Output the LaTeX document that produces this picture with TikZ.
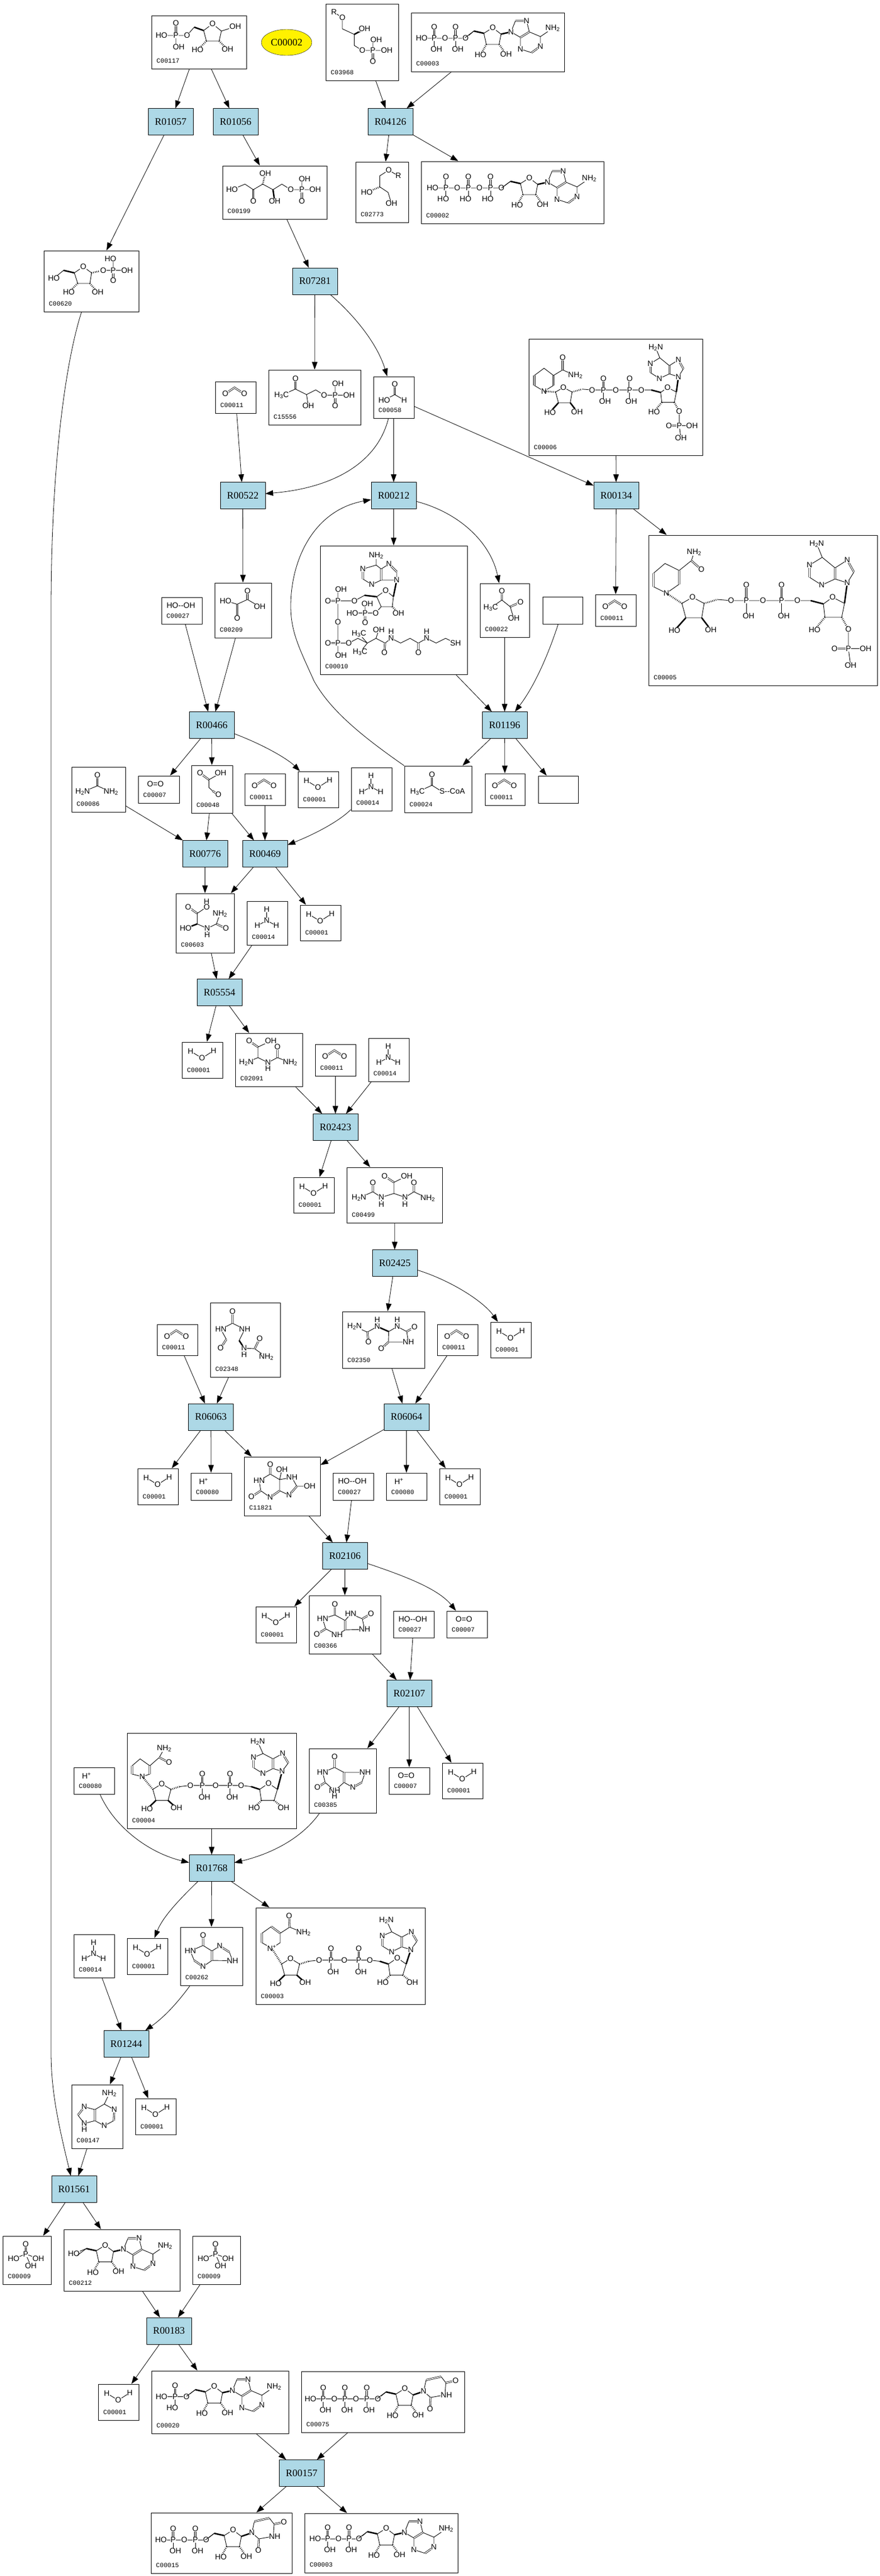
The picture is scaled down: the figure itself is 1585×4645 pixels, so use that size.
\documentclass[tikz,border=0pt]{standalone}
\usepackage{fontspec}
\setmainfont{Liberation Serif}
\newfontfamily\atomfont{Liberation Sans}
\newfontfamily\codefont{Liberation Mono}
\usetikzlibrary{shapes.geometric,arrows.meta}

\tikzset{
reaction/.style={draw,fill=lightblue,minimum width=81,minimum height=48,inner sep=0,font=\fontsize{18}{18}\selectfont},
compound/.style={draw,fill=white,inner sep=0,line width=1pt},
metabolite/.style={draw,ellipse,fill=yellow,minimum width=91,minimum height=47,inner sep=0,font=\fontsize{18}{18}\selectfont},
rxnedge/.style={-{Triangle[length=14pt,width=10pt]},line width=.8pt},
bond/.style={line width=.9pt},
dbl/.style={line width=.8pt,double,double distance=1.6pt},
wedgeb/.style={line width=2.6pt},
hashb/.style={line width=3pt,dash pattern=on .9pt off 2.2pt},
atom/.style={fill=white,inner sep=.3pt,font=\fontsize{14}{14}\atomfont},
codelabel/.style={anchor=west,inner sep=0,font=\fontsize{11.5}{12}\codefont}
}
\definecolor{lightblue}{HTML}{ADD8E6}

\newcommand{\atoms}[1]{\foreach \ax/\ay/\alab in {#1} {\node[atom] at (\ax,\ay) {\alab};}}
\newcommand{\Nt}{NH\textsubscript{2}}
\newcommand{\Nh}{H\textsubscript{2}N}
\newcommand{\Mt}{H\textsubscript{3}C}

\newcommand{\cpd}[7]{
\node[compound,minimum width={(#4-#2)*1pt},minimum height={(#5-#3)*1pt}] (#1) at ({(#2+#4)/2},{(#3+#5)/2}) {};
\begin{scope}[shift={(#2,#3)}]
#7
\node[codelabel] at (9,{#5-#3-14.5}) {#6};
\end{scope}
}

\newcommand{\mWater}{\draw[bond] (15.5,16.5)--(36,29)--(57,15.5); \atoms{15.5/16.5/H,36/29/O,57/15.5/H}}
\newcommand{\mCO}{\draw[dbl] (18,22)--(34.5,11)--(52,22); \atoms{18/22/O,52/22/O}}
\newcommand{\mOO}{\atoms{31/15/O=O}}
\newcommand{\mHOOH}{\atoms{35/15/HO--OH}}
\newcommand{\mHp}{\atoms{23/15/H\textsuperscript{+}}}
\newcommand{\mNH}{\draw[bond] (35.6,15)--(35.6,35)--(19,44) (35.6,35)--(53,44); \atoms{35.6/15/H,35.6/35/N,19/44/H,53/44/H}}
\newcommand{\mPi}{\draw[dbl] (41.3,14.5)--(41.3,32.5); \draw[bond] (19.5,41)--(41.3,32.5)--(64,40.5) (41.3,32.5)--(50.5,53.5); \atoms{41.3/14.5/O,41.3/32.5/P,19.5/41/HO,64/40.5/OH,50.5/53.5/OH}}
\newcommand{\mUrea}{\draw[dbl] (46.5,15)--(46.5,34); \draw[bond] (20,45)--(46.5,34)--(71,45); \atoms{46.5/15/O,20/45/\Nh,71/45/\Nt}}
\newcommand{\mGlyox}{\draw[dbl] (15.5,14)--(31.5,26); \draw[bond] (52.5,14)--(31.5,26)--(31.5,40)--(38,46); \draw[dbl] (38,46)--(48.5,53); \atoms{15.5/14/O,52.5/14/OH,48.5/53/O}}
\newcommand{\mOxal}{\draw[dbl] (59,15)--(59,30) (40.5,38.5)--(40.5,64); \draw[bond] (19.5,32.5)--(40.5,38.5)--(59,30)--(81,43); \atoms{59/15/O,81/43/OH,19.5/32.5/HO,40.5/64/O}}
\newcommand{\mPyr}{\draw[dbl] (39.5,14)--(39.5,30) (54.5,42)--(73,34); \draw[bond] (19.5,44)--(39.5,30)--(54.5,42)--(61,63); \atoms{39.5/14/O,19.5/44/\Mt,73/34/O,61/63/OH}}
\newcommand{\mAcCoA}{\draw[dbl] (49.5,16)--(49.5,35); \draw[bond] (23.5,47)--(49.5,35)--(67,46); \atoms{49.5/16/O,23.5/47/\Mt,86/46/S--CoA}}
\newcommand{\mFormate}{\draw[dbl] (38.5,13.5)--(38.5,32.5); \draw[bond] (19.5,42.5)--(38.5,32.5)--(55.5,42.5); \atoms{38.5/13.5/O,19.5/42.5/HO,55.5/42.5/H}}
\newcommand{\mPgp}{\draw[dbl] (48.5,15.5)--(48.5,34.5) (120,45.5)--(120,65); \draw[bond] (23.5,45.5)--(48.5,34.5)--(68.5,44.5)--(85,36)--(100,45.5)--(145,45.5) (68.5,44.5)--(71.5,65) (120,45.5)--(120,25); \atoms{48.5/15.5/O,23.5/45.5/\Mt,71.5/65/OH,100/45.5/O,120/45.5/P,125/25/OH,145/45.5/OH,120/65/O}}
\newcommand{\mRuP}{\draw[dbl] (55.5,43)--(55.5,64) (143,43)--(143,64); \draw[bond] (17,43)--(40.5,33)--(55.5,43)--(72.5,33)--(91,43)--(107,33)--(123,43)--(167,43) (143,43)--(143,24); \draw[hashb] (72.5,33)--(77,14); \draw[wedgeb] (91,43)--(94,64); \atoms{17/43/HO,55.5/64/O,77/14/OH,94/64/OH,123/43/O,143/43/P,148/24/OH,167/43/OH,143/64/O}}
\newcommand{\mRGP}{\draw[dbl] (85,84)--(85,104); \draw[bond] (30,25)--(30,45)--(51.5,55)--(51.5,75)--(66,84)--(110,84) (85,84)--(85,65); \draw[wedgeb] (51.5,55)--(70,45); \draw[bond] (15,15)--(30,25); \atoms{15/15/R,30/25/O,70/45/OH,66/84/O,85/84/P,91/65/OH,110/84/OH,85/104/O}}
\newcommand{\mRG}{\draw[bond] (77,25)--(59.5,15)--(43.5,25)--(43.5,45)--(58.5,55)--(64.5,75); \draw[hashb] (43.5,45)--(20,55); \atoms{59.5/15/O,77/25/R,20/55/HO,64.5/75/OH}}
\newcommand{\mRfP}{\draw[dbl] (44,36)--(44,14); \draw[bond] (18,36)--(64,36)--(77,21) (44,36)--(44,57) (94,27)--(110,15)--(126,28)--(122,46)--(99,46)--cycle (126,28)--(151,20); \draw[wedgeb] (77,21)--(94,27); \draw[hashb] (99,46)--(83,62) (122,46)--(137,61); \atoms{18/36/HO,44/36/P,44/14/O,49/57/OH,64/36/O,110/15/O,151/20/OH,83/62/HO,137/61/OH}}
\newcommand{\mRiP}{\draw[dbl] (125,35.5)--(125,54); \draw[bond] (18,50)--(35.5,35.5) (55,40)--(71,29)--(86,40)--(83,59)--(61,59)--cycle (107,35.5)--(150,35.5) (125,35.5)--(125,15); \draw[wedgeb] (35.5,35.5)--(55,40); \draw[hashb] (86,40)--(107,35.5) (61,59)--(45,75) (83,59)--(97,75); \atoms{18/50/HO,71/29/O,107/35.5/O,125/35.5/P,120/15/HO,150/35.5/OH,125/54/O,45/75/HO,97/75/OH}}

\newcommand{\mPO}[3][20]{\draw[dbl] (#2,#3)--(#2,#3-#1); \draw[bond] (#2,#3)--(#2,#3+#1); \atoms{#2/#3/P,#2/#3-#1/O,#2+4/#3+#1/OH}}
\newcommand{\mPOh}[2]{\draw[dbl] (#1,#2)--(#1,#2-20); \draw[bond] (#1,#2)--(#1,#2+20); \atoms{#1/#2/P,#1/#2-20/O,#1-5/#2+20/HO}}
\newcommand{\mRibose}{\draw[bond] (-16,10)--(0,0)--(15,11.5)--(11.5,30)--(-11.5,30)--cycle (-34,6)--(-50,18); \draw[wedgeb] (-16,10)--(-34,6); \draw[hashb] (-11.5,30)--(-22,49) (11.5,30)--(24,47.5); \atoms{0/0/O,-22/49/HO,24/47.5/OH}}
\newcommand{\mAdenine}{\draw[wedgeb] (15,11.5)--(33,7.5); \draw[bond] (33,7.5)--(41,-12.5) (61,-12.5)--(66,7.5)--(86,16)--(86,33.5) (70,45)--(50,38.5)--(50,17.5)--(33,7.5) (86,16)--(108,1); \draw[dbl] (41,-12.5)--(61,-12.5) (50,17.5)--(66,7.5) (86,33.5)--(70,45); \atoms{33/7.5/N,61/-12.5/N,86/33.5/N,50/38.5/N,108/1/\Nt}}
\newcommand{\mUracil}{\draw[wedgeb] (15,11.5)--(34,5); \draw[bond] (34,5)--(38.5,-15.5) (65.5,-21.5)--(74,-10.5)--(72.5,11.5)--(46.5,16)--(34,5); \draw[dbl] (38.5,-15.5)--(65.5,-21.5) (74,-10.5)--(91.5,-14) (46.5,16)--(45.5,37); \atoms{34/5/N,91.5/-14/O,75/11.5/NH,45.5/37/O}}

\newcommand{\mAdp}{\draw[bond] (19,46)--(98,46)--(113,33); \atoms{19/46/HO,61/46/O,98/46/O} \mPO{41.5}{46} \mPO{80}{46} \begin{scope}[shift={(147,27)}] \mRibose \mAdenine \end{scope}}
\newcommand{\mAtp}{\draw[bond] (20.5,48)--(144.5,48)--(161,36); \atoms{20.5/48/HO,65/48/O,105/48/O,144.5/48/O} \mPOh{44.7}{48} \mPOh{85}{48} \mPOh{125}{48} \begin{scope}[shift={(195,30)}] \mRibose \mAdenine \end{scope}}
\newcommand{\mAmp}{\draw[bond] (18,46.5)--(63,46.5)--(79,34); \atoms{18/46.5/HO,63/46.5/O} \mPOh{42.5}{46.5} \begin{scope}[shift={(113,28)}] \mRibose \mAdenine \end{scope}}
\newcommand{\mAdo}{\draw[bond] (18,44)--(40.6,34.5); \atoms{18/44/HO} \begin{scope}[shift={(74.6,28.5)}] \mRibose \mAdenine \end{scope}}
\newcommand{\mUtp}{\draw[bond] (16.5,49.5)--(138,49.5)--(153,37); \atoms{16.5/49.5/HO,59.5/49.5/O,98.5/49.5/O,138/49.5/O} \mPO{39.5}{49.5} \mPO{78.5}{49.5} \mPO{118}{49.5} \begin{scope}[shift={(186.5,31)}] \mRibose \mUracil \end{scope}}
\newcommand{\mUdp}{\draw[bond] (18,49)--(99.5,49)--(114,37); \atoms{18/49/HO,60/49/O,99.5/49/O} \mPO{40}{49} \mPO{80}{49} \begin{scope}[shift={(148,31)}] \mRibose \mUracil \end{scope}}
\newcommand{\mAdeFree}{\draw[bond] (68,16)--(59,35)--(77,45) (76,65)--(59,74)--(42,65) (42,45)--(59,35) (42,45)--(23,40) (11.5,55)--(23,70)--(42,65) (23,70)--(23,81); \draw[dbl] (77,45)--(76,65) (42,65)--(42,45) (23,40)--(11.5,55); \atoms{68/16/\Nt,77/45/N,59/74/N,23/40/N,23/70/N,23/81/H}}

\newcommand{\mNadCore}[3]{\draw[bond] (46.5,101.5)--(62.5,91.5)--(79,101.5)--(74,121.5)--(52,121.5)--cycle (95,96.5)--(114,94.5)--(205.5,94.5)--(223.5,96.5) (239,101.5)--(255,90.5)--(271,101.5)--(265,121.5)--(242,121.5)--cycle;
\draw[hashb] (46.5,101.5)--(#1,#2) (79,101.5)--(95,96.5) (242,121.5)--(229,135) (265,121.5)--(282,135);
\draw[wedgeb] (52,121.5)--(36,137) (74,121.5)--(89,135) (223.5,96.5)--(239,101.5) (271,101.5)--(279.5,69+#3);
\atoms{62.5/91.5/O,36/137/HO,89/135/OH,114/94.5/O,159.5/94.5/O,205.5/94.5/O,255/90.5/O,229/135/HO,282/135/OH}
\mPO[21]{135.5}{94.5} \mPO[21]{185.5}{94.5}
\begin{scope}[shift={(0,#3)}]
\draw[bond] (279.5,69)--(290.5,54) (280.5,37)--(263,46.5)--(245,37)--(228,44) (228,62.5)--(245,73)--(263,64)--(279.5,69) (245,37)--(235.5,16);
\draw[dbl] (290.5,54)--(280.5,37) (263,46.5)--(263,64) (228,44)--(228,62.5);
\atoms{279.5/69/N,280.5/37/N,228/44/N,245/73/N,235.5/16/\Nh}
\end{scope}}
\newcommand{\mNadh}{\draw[bond] (9,74)--(9,59)--(23.5,46.5)--(41,59) (41,74)--(27.5,78.5)--(9,74) (41,59)--(58,44)--(67,28); \draw[dbl] (9,74)--(9,59) (41,59)--(41,74) (58,44)--(75.5,53); \atoms{27.5/78.5/N,67/28/\Nt,75.5/53/O} \mNadCore{27.5}{78.5}{0}}
\newcommand{\mNad}{\draw[bond] (28.7,73)--(11,63)--(11,46)--(28,34)--(44,46)--(44,63)--cycle (44,46)--(61,35)--(86,45); \draw[dbl] (11,63)--(11,46) (28,34)--(44,46) (61,35)--(60,15); \atoms{28.7/73/N\textsuperscript{+},60/15/O,86/45/\Nt} \mNadCore{28.7}{73}{6.5}}

\newcommand{\mNadpCore}[2]{\draw[bond] (60,123)--(79,112)--(100,123)--(95.6,149)--(67,149)--cycle (124,116)--(148.6,118)--(292,118) (315,124)--(331.6,112)--(353,123)--(348,148)--(317.6,148)--cycle (360,170)--(360,204.5)--(391,204.5) (360,204.5)--(364,235) (358,86)--(370,66.6) (358,45)--(336,59)--(312.8,40)--(290,54) (290,76)--(312,90)--(336,79)--(358,86) (312.8,40)--(303,15.5);
\draw[hashb] (60,123)--(#1,#2) (100,123)--(124,116) (317.6,148)--(299,171) (348,148)--(360,170);
\draw[wedgeb] (67,149)--(46.5,172) (95.6,149)--(112,170.5) (292,118)--(315,124) (353,123)--(358,86);
\draw[dbl] (360,204.5)--(335,204.5) (370,66.6)--(358,45) (336,59)--(336,79) (290,54)--(290,76);
\atoms{79/112/O,46.5/172/HO,112/170.5/OH,148.6/118/O,206/118/O,268/118/O,331.6/112/O,299/171/HO,360/170/O,360/204.5/P,335/204.5/O,391/204.5/OH,364/235/OH,358/86/N,358/45/N,290/54/N,312/90/N,303/15.5/\Nh}
\mPO[28]{176}{118} \mPO[28]{239.6}{118}}
\newcommand{\mNadph}{\draw[bond] (32,104.5)--(9,93) (9,68.5)--(29.5,51)--(55,63.7) (55,88.5)--(32,104.5) (55,63.7)--(77,46)--(82,31); \draw[dbl] (9,93)--(9,68.5) (55,63.7)--(55,88.5) (77,46)--(95,62); \atoms{32/104.5/N,82/31/\Nt,95/62/O} \mNadpCore{32}{104.5}}
\newcommand{\mNadp}{\draw[bond] (27.5,94.5)--(10,84) (10,66)--(27.5,53)--(44.5,66) (44.5,84)--(27.5,94.5) (44.5,66)--(61,56)--(84,66); \draw[dbl] (10,84)--(10,66) (44.5,66)--(44.5,84) (61,56)--(61,34); \atoms{27.5/94.5/N,84/66/\Nt,61/34/O} \begin{scope}[shift={(3.7,4.5)},scale=.743] \mNadpCore{32}{121} \end{scope}}

\newcommand{\mCoA}{\draw[bond] (101,17.5)--(101,35)--(77,42) (77,60)--(93,70)--(110,62) (110,42)--(101,35) (110,42)--(124,33) (138,47)--(138,62)--(110,62) (132,92)--(118,80.5)--(102,92) (132,92)--(130,110)--(110,110)--(102,92) (80,89.5)--(61.7,99.5)--(32,99.5)--(32,78.6) (32,99.5)--(32,175.6)--(32,198) (32,175.6)--(51.6,175.6)--(68,167)--(85,175.6)--(100.6,167)--(117,175.6)--(128,167)--(145,175.6)--(162,167)--(177,175.6)--(192,167)--(209,175.6)--(226,167)--(244,175.6) (100.6,167)--(105.7,152) (128,167)--(128,154.5) (192,167)--(192,154.5) (110,110)--(100,121.4)--(58,121.4) (81,121.4)--(81,104.5) (85,175.6)--(70,158.7) (85,175.6)--(72,192);
\draw[dbl] (77,42)--(77,60) (110,62)--(110,42) (124,33)--(138,47) (32,99.5)--(14,99.5) (32,175.6)--(14,175.6) (117,175.6)--(115.8,193) (177,175.6)--(177,193) (81,121.4)--(81,139);
\draw[wedgeb] (132,92)--(138,62) (102,92)--(80,89.5); \draw[hashb] (130,110)--(141,121.4);
\atoms{101/17.5/\Nt,77/42/N,93/70/N,124/33/N,138/62/N,118/80.5/O,61.7/99.5/O,32/99.5/P,37.6/78.6/OH,14/99.5/O,32/138/O,141/121.4/OH,100/121.4/O,81/121.4/P,85/104.5/OH,58/121.4/HO,81/139/O,32/175.6/P,14/175.6/O,37.6/198/OH,51.6/175.6/O,70/158.7/\Mt,72/192/\Mt,105.7/152/OH,115.8/193/O,128/167/N,128/154.5/H,177/193/O,192/167/N,192/154.5/H,244/175.6/SH}}
\newcommand{\mXan}{\draw[bond] (46,34)--(24.5,43)--(29,61)--(46,76)--(63,61)--(63,43)--(46,34) (63,43)--(101,43)--(95,61) (79,70)--(63,61); \draw[dbl] (46,15)--(46,34) (29,61)--(15,70) (63,61)--(63,43) (95,61)--(79,70); \atoms{46/15/O,24.5/43/HN,15/70/O,46/76/NH,46/86/H,101/43/NH,79/70/N}}
\newcommand{\mHyp}{\draw[bond] (41,33)--(18,43)--(25,60) (41,71)--(57,60) (57,43)--(41,33) (57,43)--(71,34) (88.5,45)--(94,60.5)--(57,60); \draw[dbl] (41,15)--(41,33) (25,60)--(41,71) (57,60)--(57,43) (71,34)--(88.5,45); \atoms{41/15/O,18/43/HN,41/71/N,71/34/N,94/60.5/NH}}
\newcommand{\mUric}{\draw[bond] (46.5,35)--(24.5,42)--(30,60)--(50.5,71)--(65,62)--(65,45)--(46.5,35) (65,45)--(75,33)--(96,42)--(100,61)--(65,62); \draw[dbl] (46.5,16)--(46.5,35) (30,60)--(14,70) (96,42)--(111.5,33) (65,62)--(65,45); \atoms{46.5/16/O,24.5/42/HN,14/70/O,50.5/71/NH,75/33/HN,111.5/33/O,100/61/NH}}
\newcommand{\mOxy}{\draw[bond] (47,31)--(27,43)--(30,61)--(47,73) (64,61)--(64,41)--(47,31) (64,41)--(68,23) (64,41)--(86,37)--(95,53)--(118,53) (81,69)--(64,61); \draw[dbl] (47,13.5)--(47,31) (30,61)--(13,72) (47,73)--(64,61) (95,53)--(81,69); \atoms{47/13.5/O,27/43/HN,13/72/O,47/73/N,68/23/OH,86/37/NH,118/53/OH,81/69/N}}
\newcommand{\mHiu}{\draw[bond] (22,27)--(45,37)--(63,27)--(63,15) (83.5,36)--(99,27)--(99,15) (99,27)--(116,36)--(119,55)--(83,55)--(83.5,36); \draw[wedgeb] (63,27)--(83.5,36); \draw[dbl] (45,37)--(47,55) (116,36)--(130,28) (83,55)--(70,67); \atoms{22/27/\Nh,47/55/O,63/27/N,63/15/H,99/27/N,99/15/H,130/28/O,119/55/NH,70/67/O}}
\newcommand{\mFgam}{\draw[bond] (40,37)--(19,48)--(29,66) (40,37)--(62,48)--(52,68) (61,82)--(61,94) (61,82)--(80,83)--(101,98); \draw[wedgeb] (52,68)--(61,82); \draw[dbl] (40,16)--(40,37) (29,66)--(18.5,82) (80,83)--(89,65); \atoms{40/16/O,19/48/HN,62/48/NH,18.5/82/O,61/82/N,61/94/H,89/65/O,101/98/\Nt}}
\newcommand{\mBis}{\draw[dbl] (68,15.5)--(85,27) (47,44)--(47,28) (121,44)--(121,28); \draw[bond] (108,15.5)--(85,27)--(85,47)--(62.5,54)--(47,44)--(22,55) (85,47)--(105,54)--(121,44)--(146,56) (62.5,54)--(62.5,66.5) (105,54)--(105,66.5); \atoms{68/15.5/O,108/15.5/OH,47/28/O,121/28/O,22/55/\Nh,62.5/54/N,62.5/66.5/H,105/54/N,105/66.5/H,146/56/\Nt}}
\newcommand{\mUgly}{\draw[dbl] (25,14)--(41,25) (76,44)--(76,24.5); \draw[bond] (64,14)--(41,25)--(41,44)--(20,53) (41,44)--(59,53)--(76,44)--(99,53) (59,53)--(59,64); \atoms{25/14/O,64/14/OH,20/53/\Nh,59/53/N,59/64/H,76/24.5/O,99/53/\Nt}}
\newcommand{\mUrei}{\draw[dbl] (22,24.5)--(38.5,36) (73,55)--(90,63); \draw[bond] (55.5,14.5)--(55.5,24.5)--(38.5,36)--(38.5,55)--(56.5,63)--(73,55)--(79.5,37) (56.5,63)--(56.5,75); \draw[wedgeb] (38.5,55)--(17.5,63); \atoms{55.5/14.5/H,55.5/24.5/O,22/24.5/O,17.5/63/HO,56.5/63/N,56.5/75/H,90/63/O,79.5/37/\Nt}}

\begin{document}
\begin{tikzpicture}[x=1pt,y=-1pt]
\useasboundingbox (0,0) rectangle (1585,4645);

\node[metabolite] (c00002) at (516.5,76.5) {C00002};
\cpd{c00117}{273}{28}{444}{124}{C00117}{\mRfP}
\cpd{c03968}{587}{7}{718}{145}{C03968}{\mRGP}
\cpd{c00003a}{741}{23}{1017}{129}{C00003}{\mAdp}
\cpd{c00199}{401}{299}{589}{395}{C00199}{\mRuP}
\cpd{c02773}{641}{292}{736}{401}{C02773}{\mRG}
\cpd{catp}{759}{291}{1088}{403}{C00002}{\mAtp}
\cpd{c00620}{79}{452}{250}{562}{C00620}{\mRiP}
\cpd{c00011a}{388}{688}{461}{745}{C00011}{\mCO}
\cpd{c15556}{484}{667}{650}{766}{C15556}{\mPgp}
\cpd{c00058}{673}{679}{746}{754}{C00058}{\mFormate}
\cpd{c00006}{953}{611}{1266}{821}{C00006}{\mNadp}
\cpd{c00010}{577}{984}{842}{1216}{C00010}{\mCoA}
\cpd{c00209}{387}{1051}{489}{1150}{C00209}{\mOxal}
\cpd{c00027a}{291}{1077}{364}{1125}{C00027}{\mHOOH}
\cpd{c00022}{865}{1052}{954}{1149}{C00022}{\mPyr}
\cpd{cblanka}{978}{1076}{1050}{1125}{}{}
\cpd{c00011b}{1073}{1072}{1146}{1129}{C00011}{\mCO}
\cpd{c00005}{1169}{965}{1581}{1236}{C00005}{\mNadph}
\cpd{c00086}{129}{1383}{226}{1464}{C00086}{\mUrea}
\cpd{c00007a}{249}{1399}{323}{1448}{C00007}{\mOO}
\cpd{c00048}{345}{1380}{419}{1466}{C00048}{\mGlyox}
\cpd{c00011c}{441}{1395}{514}{1452}{C00011}{\mCO}
\cpd{c00001a}{537}{1391}{610}{1456}{C00001}{\mWater}
\cpd{c00014a}{633}{1384}{706}{1462}{C00014}{\mNH}
\cpd{c00024}{729}{1381}{850}{1465}{C00024}{\mAcCoA}
\cpd{c00011d}{874}{1395}{946}{1452}{C00011}{\mCO}
\cpd{cblankb}{970}{1399}{1042}{1448}{}{}
\cpd{c00603}{317}{1611}{422}{1718}{C00603}{\mUrei}
\cpd{c00014b}{445}{1625}{518}{1704}{C00014}{\mNH}
\cpd{c00001b}{541}{1632}{614}{1696}{C00001}{\mWater}
\cpd{c00001c}{328}{1879}{401}{1944}{C00001}{\mWater}
\cpd{c02091}{424}{1863}{545}{1959}{C02091}{\mUgly}
\cpd{c00011e}{568}{1883}{641}{1940}{C00011}{\mCO}
\cpd{c00014c}{664}{1872}{737}{1950}{C00014}{\mNH}
\cpd{c00001d}{529}{2123}{602}{2187}{C00001}{\mWater}
\cpd{c00499}{625}{2105}{797}{2205}{C00499}{\mBis}
\cpd{c00011f}{283}{2388}{356}{2444}{C00011}{\mCO}
\cpd{c02348}{379}{2349}{505}{2483}{C02348}{\mFgam}
\cpd{c02350}{617}{2365}{765}{2467}{C02350}{\mHiu}
\cpd{c00011g}{788}{2388}{861}{2444}{C00011}{\mCO}
\cpd{c00001e}{884}{2384}{957}{2448}{C00001}{\mWater}
\cpd{c00001f}{248}{2648}{321}{2713}{C00001}{\mWater}
\cpd{c00080a}{344}{2656}{417}{2705}{C00080}{\mHp}
\cpd{c11821}{440}{2627}{577}{2733}{C11821}{\mOxy}
\cpd{c00027b}{600}{2656}{673}{2705}{C00027}{\mHOOH}
\cpd{c00080b}{696}{2656}{769}{2705}{C00080}{\mHp}
\cpd{c00001g}{792}{2648}{865}{2713}{C00001}{\mWater}
\cpd{c00001h}{461}{2897}{534}{2962}{C00001}{\mWater}
\cpd{c00366}{557}{2877}{686}{2982}{C00366}{\mUric}
\cpd{c00027c}{709}{2905}{782}{2953}{C00027}{\mHOOH}
\cpd{c00007b}{805}{2905}{878}{2953}{C00007}{\mOO}
\cpd{c00004}{229}{3125}{534}{3297}{C00004}{\mNadh}
\cpd{c00385}{557}{3153}{678}{3269}{C00385}{\mXan}
\cpd{c00007c}{701}{3187}{774}{3235}{C00007}{\mOO}
\cpd{c00001i}{797}{3179}{870}{3243}{C00001}{\mWater}
\cpd{c00080c}{133}{3187}{206}{3235}{C00080}{\mHp}
\cpd{c00014d}{133}{3488}{206}{3566}{C00014}{\mNH}
\cpd{c00001j}{229}{3495}{302}{3560}{C00001}{\mWater}
\cpd{c00262}{325}{3475}{437}{3580}{C00262}{\mHyp}
\cpd{c00003b}{461}{3440}{766}{3614}{C00003}{\mNad}
\cpd{c00147}{129}{3759}{221}{3874}{C00147}{\mAdeFree}
\cpd{c00001k}{244}{3784}{317}{3849}{C00001}{\mWater}
\cpd{c00009a}{5}{4032}{92}{4119}{C00009}{\mPi}
\cpd{c00212}{115}{4020}{324}{4131}{C00212}{\mAdo}
\cpd{c00009b}{347}{4032}{433}{4119}{C00009}{\mPi}
\cpd{c00001l}{177}{4299}{250}{4364}{C00001}{\mWater}
\cpd{c00020}{273}{4275}{520}{4388}{C00020}{\mAmp}
\cpd{c00075}{543}{4276}{837}{4386}{C00075}{\mUtp}
\cpd{c00015}{272}{4531}{526}{4640}{C00015}{\mUdp}
\cpd{c00003c}{549}{4532}{825}{4639}{C00003}{\mAdp}

\node[reaction] (r01057) at (307.5,219.5) {R01057};
\node[reaction] (r01056) at (424.5,219.5) {R01056};
\node[reaction] (r04126) at (703.5,219.5) {R04126};
\node[reaction] (r07281) at (567.5,507) {R07281};
\node[reaction] (r00522) at (437.5,893.5) {R00522};
\node[reaction] (r00212) at (709.5,893.5) {R00212};
\node[reaction] (r00134) at (1110.5,893.5) {R00134};
\node[reaction] (r00466) at (381.5,1307.5) {R00466};
\node[reaction] (r01196) at (909.5,1307.5) {R01196};
\node[reaction] (r00776) at (369.5,1539.5) {R00776};
\node[reaction] (r00469) at (477.5,1539.5) {R00469};
\node[reaction] (r05554) at (395.5,1789.5) {R05554};
\node[reaction] (r02423) at (604.5,2032.5) {R02423};
\node[reaction] (r02425) at (711.5,2277.5) {R02425};
\node[reaction] (r06063) at (380,2555) {R06063};
\node[reaction] (r06064) at (732.5,2555) {R06064};
\node[reaction] (r02106) at (621.5,2805.5) {R02106};
\node[reaction] (r02107) at (737.5,3053.5) {R02107};
\node[reaction] (r01768) at (381.5,3368.5) {R01768};
\node[reaction] (r01244) at (227.5,3685.5) {R01244};
\node[reaction] (r01561) at (133.5,3947.5) {R01561};
\node[reaction] (r00183) at (304.5,4203) {R00183};
\node[reaction] (r00157) at (543.5,4459.5) {R00157};

\foreach \a/\b in {c00117/r01057,c00117/r01056,c03968/r04126,c00003a/r04126,r04126/c02773,r04126/catp,r01057/c00620,r01056/c00199,c00199/r07281,r07281/c15556,c00011a/r00522,c00058/r00212,c00058/r00134,c00006/r00134,r00134/c00011b,r00134/c00005,r00522/c00209,r00212/c00010,c00010/r01196,c00022/r01196,c00027a/r00466,c00209/r00466,r00466/c00007a,r00466/c00048,r01196/c00024,r01196/c00011d,r01196/cblankb,c00086/r00776,c00048/r00776,c00048/r00469,c00011c/r00469,r00776/c00603,r00469/c00603,r00469/c00001b,c00603/r05554,c00014b/r05554,r05554/c00001c,r05554/c02091,c02091/r02423,c00011e/r02423,c00014c/r02423,r02423/c00001d,r02423/c00499,c00499/r02425,r02425/c02350,c00011f/r06063,c02348/r06063,c02350/r06064,c00011g/r06064,r06063/c00001f,r06063/c00080a,r06063/c11821,r06064/c11821,r06064/c00080b,r06064/c00001g,c11821/r02106,c00027b/r02106,r02106/c00001h,r02106/c00366,c00366/r02107,c00027c/r02107,r02107/c00385,r02107/c00007c,r02107/c00001i,c00004/r01768,r01768/c00262,r01768/c00003b,c00014d/r01244,r01244/c00147,r01244/c00001k,c00147/r01561,r01561/c00009a,r01561/c00212,c00212/r00183,c00009b/r00183,r00183/c00001l,r00183/c00020,c00020/r00157,c00075/r00157,r00157/c00015,r00157/c00003c}
\draw[rxnedge] (\a) -- (\b);

\draw[rxnedge] (r07281) .. controls (640,570) and (680,620) .. (c00058);
\draw[rxnedge] (c00058) .. controls (680,835) and (600,880) .. (r00522);
\draw[rxnedge] (r00212) .. controls (830,925) and (885,980) .. (c00022);
\draw[rxnedge] (c00024) .. controls (650,1326) and (595,1280) .. (566,1228) .. controls (540,1170) and (524,1140) .. (524,1093) .. controls (524,1010) and (565,920) .. (r00212);
\draw[rxnedge] (cblanka) .. controls (990,1175) and (965,1235) .. (r01196);
\draw[rxnedge] (r00466) .. controls (480,1345) and (520,1370) .. (c00001a);
\draw[rxnedge] (c00014a) .. controls (610,1482) and (565,1505) .. (r00469);
\draw[rxnedge] (r02425) .. controls (810,2308) and (870,2345) .. (c00001e);
\draw[rxnedge] (r02106) .. controls (730,2842) and (790,2865) .. (c00007b);
\draw[rxnedge] (c00385) .. controls (540,3320) and (480,3345) .. (r01768);
\draw[rxnedge] (c00080c) .. controls (205,3292) and (265,3340) .. (r01768);
\draw[rxnedge] (r01768) .. controls (315,3433) and (292,3460) .. (c00001j);
\draw[rxnedge] (c00262) .. controls (310,3625) and (285,3645) .. (r01244);
\draw[rxnedge] (c00620) .. controls (116,660) and (92,850) .. (92,1100) -- (92,3700) .. controls (92,3770) and (105,3830) .. (r01561);
\end{tikzpicture}
\end{document}
